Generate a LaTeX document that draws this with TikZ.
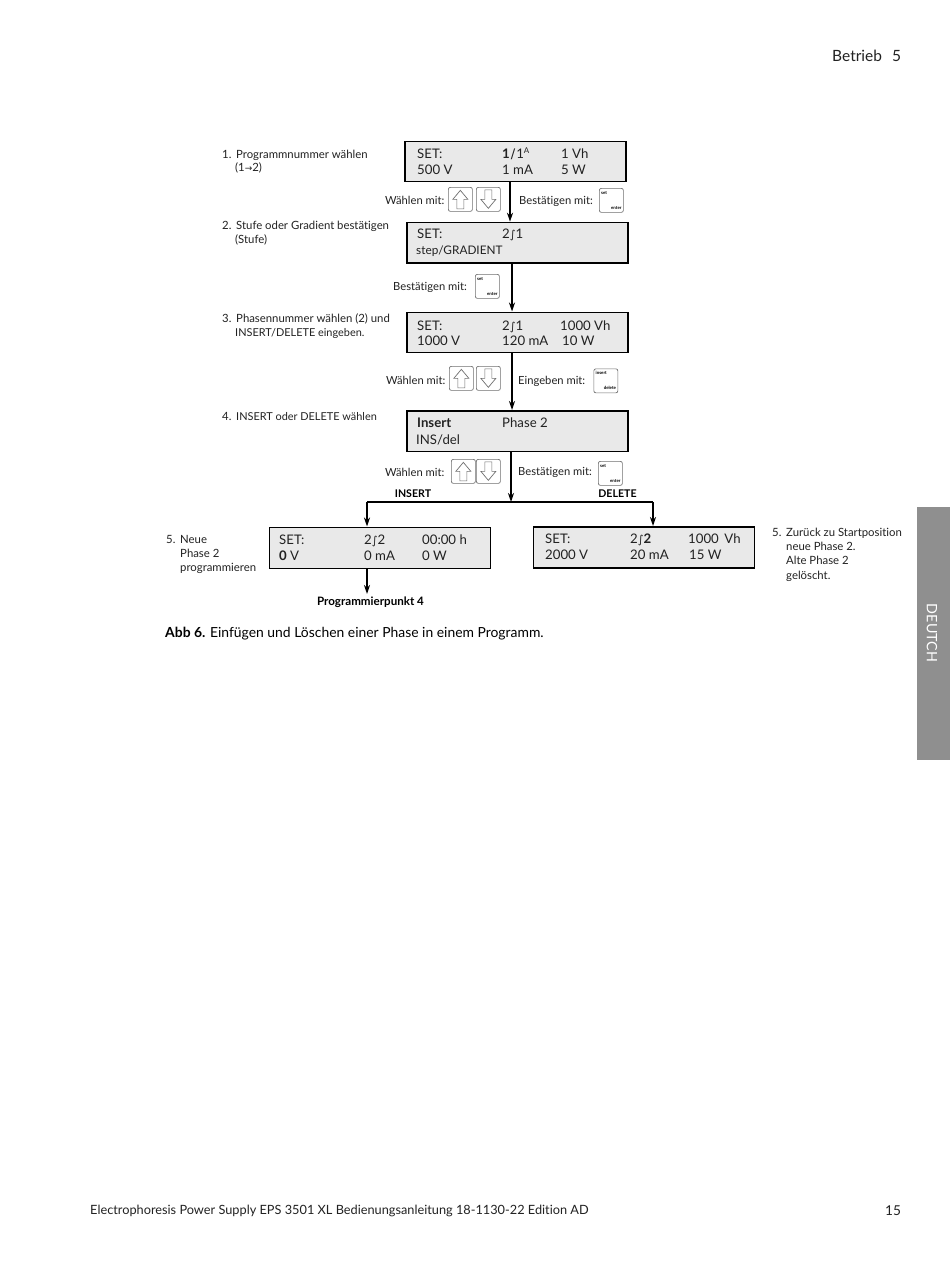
\documentclass[tikz,border=0pt]{standalone}
\usepackage{fontspec}
\setmainfont[Ligatures=NoCommon]{Lato}
\newfontfamily\symf{DejaVu Sans}
\usetikzlibrary{arrows.meta}
\definecolor{lcd}{HTML}{E9E9E9}
\definecolor{txt}{HTML}{222222}
\definecolor{tab}{HTML}{8F8F8F}
\definecolor{keyc}{HTML}{707070}
\newcommand{\rmp}{{\symf\fontsize{11}{11}\selectfont ∫}}
\tikzset{
 x=1pt,y=-1pt,
 lcdbox/.style={draw=black,line width=1.6pt,fill=lcd,anchor=north west,inner sep=0pt},
 lab/.style={anchor=base west,inner sep=0pt,text=txt,font=\fontsize{11.35}{14}\selectfont},
 klab/.style={anchor=base west,inner sep=0pt,text=txt,font=\fontsize{11.2}{14}\selectfont},
 caplab/.style={anchor=base west,inner sep=0pt,text=txt,font=\fontsize{10.9}{14}\selectfont},
 dsp/.style={anchor=base west,inner sep=0pt,text=txt,font=\fontsize{13.2}{15}\selectfont},
 blab/.style={anchor=base,inner sep=0pt,text=black,font=\fontsize{10.6}{12}\selectfont\bfseries},
 flow/.style={line width=1.5pt,-{Stealth[length=9pt,width=6pt]}},
 plain/.style={line width=1.5pt},
 keybox/.style={draw=keyc,line width=.7pt,rounded corners=2pt,fill=white,anchor=north west,inner sep=0pt},
 tiny/.style={inner sep=0pt,text=black,font=\fontsize{4.4}{4}\selectfont\bfseries},
 blockarr/.style={draw=keyc,line width=.7pt,fill=white,line join=miter},
}
\newcommand{\lcd}[5]{\node[lcdbox,minimum width=#4,minimum height=#5] (#1) at (#2,#3) {};}
\newcommand{\ukey}[3]{\node[keybox,minimum width=24,minimum height=24] (#1) at (#2,#3) {};
 \draw[blockarr] (#1.center) ++(0,-9) -- ++(7.5,9) -- ++(-4,0) -- ++(0,9.5) -- ++(-7,0) -- ++(0,-9.5) -- ++(-4,0) -- cycle;}
\newcommand{\dkey}[3]{\node[keybox,minimum width=24,minimum height=24] (#1) at (#2,#3) {};
 \draw[blockarr] (#1.center) ++(0,9) -- ++(7.5,-9) -- ++(-4,0) -- ++(0,-9.5) -- ++(-7,0) -- ++(0,9.5) -- ++(-4,0) -- cycle;}
\newcommand{\skey}[5]{\node[keybox,minimum width=24,minimum height=24] (#1) at (#2,#3) {};
 \node[tiny,anchor=north west] at ([shift={(2,3)}]#1.north west) {#4};
 \node[tiny,anchor=south east] at ([shift={(-2,-3)}]#1.south east) {#5};}
\begin{document}
\begin{tikzpicture}
\useasboundingbox (0,0) rectangle (950,1266);
\fill[white] (0,0) rectangle (950,1266);
% page furniture
\node[anchor=base west,inner sep=0pt,text=txt,font=\fontsize{15.5}{18}\selectfont] (hd) at (832,61) {Betrieb};
\node[anchor=base west,inner sep=0pt,text=txt,font=\fontsize{15.5}{18}\selectfont] (hdn) at (892,61) {5};
\node[anchor=base west,inner sep=0pt,text=txt,font=\fontsize{12.75}{16}\selectfont] (ft) at (90,1214) {Electrophoresis Power Supply EPS 3501 XL Bedienungsanleitung 18-1130-22 Edition AD};
\node[anchor=base west,inner sep=0pt,text=txt,font=\fontsize{13.6}{16}\selectfont] (ftn) at (885,1215) {15};
\fill[tab] (917,507) rectangle (950,760);
\node[rotate=-90,inner sep=0pt,text=white,font=\fontsize{14.3}{18}\selectfont] (tabt) at (932,633) {DEUTCH};
\node[anchor=base west,inner sep=0pt,text=black,font=\fontsize{13.9}{16}\selectfont] (cap) at (165,637) {\textbf{Abb 6.} Einfügen und Löschen einer Phase in einem Programm.};
% displays
\lcd{d1}{404}{140.5}{221}{40}
\lcd{d2}{406}{221.7}{221}{40.5}
\lcd{d3}{406}{311.5}{221}{40}
\lcd{d4}{406}{410}{221}{40.5}
\lcd{d5}{268.5}{526.5}{221}{41}
\lcd{d6}{532.5}{526}{221}{41}
% routing coordinates
\coordinate (c1) at (510,0);
\coordinate (c2) at (512,0);
\coordinate (c4) at (511,0);
\coordinate (fork) at (511,502);
\coordinate (fl) at (367,502);
\coordinate (fr) at (653,502);
\coordinate (pp) at (367,594);
% connectors
\draw[flow] (d1.south -| c1) -- (d2.north -| c1);
\draw[flow] (d2.south -| c2) -- (d3.north -| c2);
\draw[flow] (d3.south -| c2) -- (d4.north -| c2);
\draw[flow] (d4.south -| c4) -- (fork);
\draw[plain] (fl) -- (fr);
\draw[flow] (fl) -- (fl |- d5.north);
\draw[flow] (fr) -- (fr |- d6.north);
\draw[flow] (d5.south -| fl) -- (pp);
% display 1
\node[dsp] (t1a) at (417,158) {SET:};
\node[dsp] (t1b) at (502,158) {\textbf{1}\kern1pt{\symf ∕}\kern1pt 1\raisebox{5pt}{\fontsize{8}{8}\selectfont A}};
\node[dsp] (t1c) at (561,158) {1 Vh};
\node[dsp] (t1d) at (417,174) {500 V};
\node[dsp] (t1e) at (502,174) {1 mA};
\node[dsp] (t1f) at (561,174) {5 W};
% display 2
\node[dsp] (t2a) at (417,238) {SET:};
\node[dsp] (t2b) at (502,238) {2\rmp 1};
\node[dsp,font=\fontsize{11.8}{15}\selectfont] (t2c) at (416,254) {step/GRADIENT};
% display 3
\node[dsp] (t3a) at (417,330) {SET:};
\node[dsp] (t3b) at (502,330) {2\rmp 1};
\node[dsp] (t3c) at (560,330) {1000 Vh};
\node[dsp] (t3d) at (417,345) {1000 V};
\node[dsp] (t3e) at (502,345) {120 mA};
\node[dsp] (t3f) at (562,345) {10 W};
% display 4
\node[dsp] (t4a) at (417,427) {\textbf{Insert}};
\node[dsp] (t4b) at (502,427) {Phase 2};
\node[dsp] (t4c) at (416,444) {INS/del};
% display 5
\node[dsp] (t5a) at (279,544) {SET:};
\node[dsp] (t5b) at (364,544) {2\rmp 2};
\node[dsp] (t5c) at (422,544) {00:00 h};
\node[dsp] (t5d) at (279,560) {\textbf{0} V};
\node[dsp] (t5e) at (364,560) {0 mA};
\node[dsp] (t5f) at (422,560) {0 W};
% display 6
\node[dsp] (t6a) at (545,543) {SET:};
\node[dsp] (t6b) at (630,543) {2\rmp\textbf{2}};
\node[dsp] (t6c) at (688,543) {1000\, Vh};
\node[dsp] (t6d) at (545,559) {2000 V};
\node[dsp] (t6e) at (630,559) {20 mA};
\node[dsp] (t6f) at (689,559) {15 W};
% step labels
\node[lab] (n1) at (222,158) {1.};
\node[lab] (s1) at (236,158) {Programmnummer wählen};
\node[lab] (s1b) at (235,171) {(1{\symf\fontsize{9}{9}\selectfont →}2)};
\node[lab] (n2) at (222,229) {2.};
\node[lab] (s2) at (236,229) {Stufe oder Gradient bestätigen};
\node[lab] (s2b) at (235,243) {(Stufe)};
\node[lab] (n3) at (222,322) {3.};
\node[lab] (s3) at (236,322) {Phasennummer wählen (2) und};
\node[caplab] (s3b) at (235,336) {INSERT/DELETE eingeben.};
\node[lab] (n4) at (222,420) {4.};
\node[caplab] (s4) at (236,420) {INSERT oder DELETE wählen};
\node[lab] (n5) at (166,543) {5.};
\node[lab] (s5) at (180,543) {Neue};
\node[lab] (s5b) at (180,557) {Phase 2};
\node[lab] (s5c) at (180,571) {programmieren};
\node[lab] (n6) at (772,536) {5.};
\node[lab] (s6) at (786,536) {Zurück zu Startposition};
\node[lab] (s6b) at (786,550) {neue Phase 2.};
\node[lab] (s6c) at (786,564) {Alte Phase 2};
\node[lab] (s6d) at (786,579) {gelöscht.};
% key labels
\node[klab] (w1) at (385,204) {Wählen mit:};
\node[klab] (b1) at (519,204) {Bestätigen mit:};
\node[klab] (b2) at (393,290) {Bestätigen mit:};
\node[klab] (w3) at (386,384) {Wählen mit:};
\node[klab] (e3) at (518,384) {Eingeben mit:};
\node[klab] (w4) at (385,476) {Wählen mit:};
\node[klab] (b4) at (518,475) {Bestätigen mit:};
% keys
\ukey{u1}{448}{187}\dkey{v1}{476}{187}
\skey{k1}{599}{188}{set}{enter}
\skey{k2}{475}{274}{set}{enter}
\ukey{u3}{449}{366}\dkey{v3}{476}{366}
\skey{k3}{593.5}{368.5}{insert}{delete}
\ukey{u4}{451}{459}\dkey{v4}{476}{459}
\skey{k4}{598}{461}{set}{enter}
% branch labels
\node[blab] (ins) at (413,497) {INSERT};
\node[blab] (del) at (617.5,497) {DELETE};
\node[blab,font=\fontsize{11.6}{12}\selectfont\bfseries] (pn) at (370.5,605) {Programmierpunkt 4};
\end{tikzpicture}
\end{document}
